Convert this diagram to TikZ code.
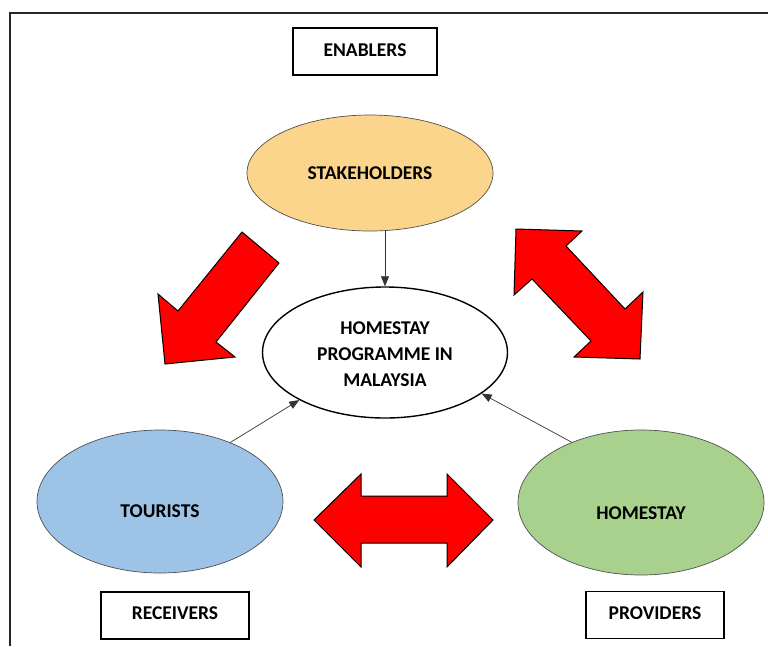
\documentclass[tikz,border=0pt]{standalone}
\usepackage{fontspec}
\setmainfont{Carlito}
\usetikzlibrary{shapes.geometric,arrows.meta}

\definecolor{stakefill}{HTML}{FCD58D}
\definecolor{tourfill}{HTML}{9DC3E6}
\definecolor{homefill}{HTML}{A9D18E}
\definecolor{edgegray}{HTML}{505050}

\tikzset{
  lbl/.style={font=\fontsize{19.5}{26}\selectfont\bfseries, text=black},
  tagbox/.style={lbl, draw=black, line width=1.3pt, minimum height=47pt, inner sep=0pt},
  actor/.style={ellipse, draw=edgegray, line width=0.7pt, inner sep=0pt},
  hub/.style={ellipse, draw=black, line width=1.4pt, fill=white, inner sep=0pt,
    minimum width=245pt, minimum height=131pt},
  conn/.style={draw=black!80, line width=0.7pt, -{Triangle[length=10pt,width=8pt]}},
  bigarrow/.style={fill=red, draw=black, line width=1pt, line join=miter}
}

\begin{document}
\begin{tikzpicture}[x=1pt,y=-1pt]
  \useasboundingbox (0,0) rectangle (768,646);

  % open frame: left side and top
  \draw[line width=1.4pt, draw=black!85] (10,646) -- (10,13) -- (768,13);

  % label boxes (text sits a little above the middle)
  \node[tagbox, minimum width=144pt] (enablers) at (365,51.5) {\raisebox{2.5pt}{ENABLERS}};
  \node[tagbox, minimum width=148pt] (receivers) at (175,615.5) {\raisebox{4pt}{RECEIVERS}};
  \node[tagbox, minimum width=138pt] (providers) at (655,615) {\raisebox{4pt}{PROVIDERS}};

  % the three participants and the programme
  \node[actor, fill=stakefill, minimum width=246pt, minimum height=116pt,
        label={[lbl]center:STAKEHOLDERS}] (stake) at (370,173) {};
  \node[actor, fill=tourfill, minimum width=246pt, minimum height=143pt,
        label={[lbl, yshift=-10pt]center:TOURISTS}] (tour) at (160,501.5) {};
  \node[actor, fill=homefill, minimum width=246pt, minimum height=145pt,
        label={[lbl, yshift=-11pt]center:HOMESTAY}] (home) at (641,502.5) {};
  \node[hub, label={[lbl, align=center, yshift=-2pt]center:HOMESTAY\\PROGRAMME IN\\MALAYSIA}]
        (prog) at (385,352.5) {};

  % connectors into the programme
  \draw[conn] (prog.north |- stake.south) -- (prog.north);
  \draw[conn] (tour.40) -- (prog.209);
  \draw[conn] (home.139) -- (prog.337);

  % block arrow: stakeholders towards tourists
  \draw[bigarrow] (242,232) -- (279,263) -- (216,342) -- (235,357) -- (165,364)
    -- (158,294) -- (178,311) -- cycle;

  % double block arrow: stakeholders and homestay
  \draw[bigarrow] (516,229) -- (582,231) -- (566,246) -- (625,309) -- (643,292)
    -- (640,359) -- (574,357) -- (591,341) -- (532,279) -- (514,295) -- cycle;

  % double block arrow: tourists and homestay
  \draw[bigarrow] (314,520) -- (361,474) -- (361,496) -- (447,496) -- (447,474)
    -- (493,520) -- (447,567) -- (447,543) -- (361,543) -- (361,567) -- cycle;
\end{tikzpicture}
\end{document}
